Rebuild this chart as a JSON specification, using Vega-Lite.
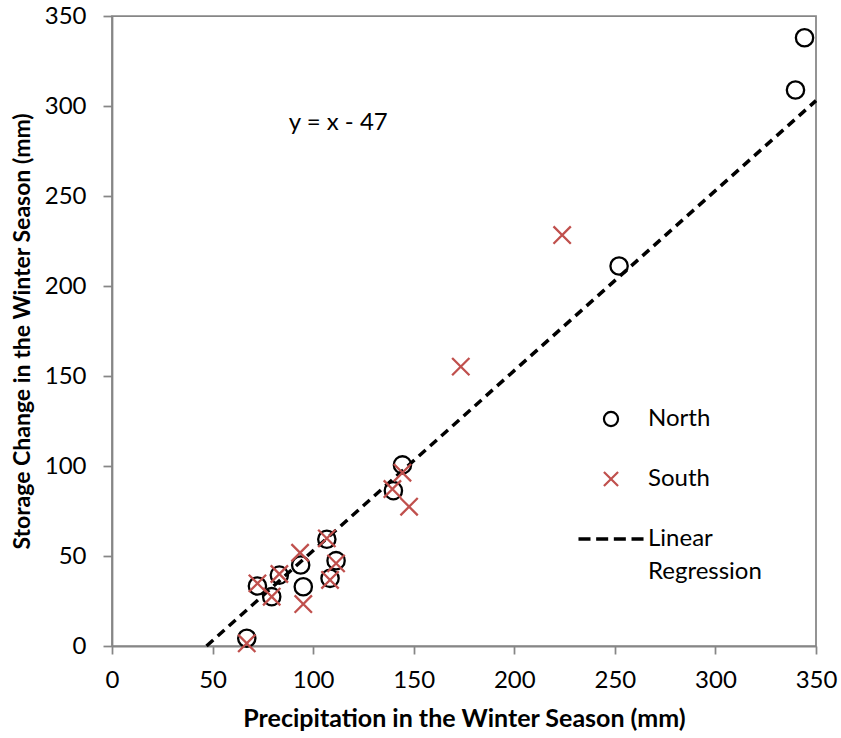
{
  "$schema": "https://vega.github.io/schema/vega-lite/v6.json",
  "width": 704,
  "height": 630,
  "autosize": {"type": "none"},
  "padding": {"left": 112, "top": 16, "right": 25, "bottom": 92},
  "background": "white",
  "config": {
    "font": "Lato",
    "view": {"stroke": "#868686", "strokeWidth": 1.75},
    "style": {"guide-label": {"lineHeight": 33}},
    "axis": {
      "grid": false,
      "domainColor": "#868686",
      "domainWidth": 1.75,
      "tickColor": "#868686",
      "tickWidth": 1.75,
      "labelFont": "Lato",
      "labelFontSize": 24,
      "labelColor": "#000000",
      "titleFont": "Lato",
      "titleFontSize": 24,
      "titleFontWeight": "bold",
      "titleColor": "#000000"
    }
  },
  "datasets": {
    "points": [
      {"series": "North", "precip": 67, "storage": 4.3},
      {"series": "North", "precip": 72.3, "storage": 33.3},
      {"series": "North", "precip": 79.4, "storage": 27.4},
      {"series": "North", "precip": 83.2, "storage": 39.4},
      {"series": "North", "precip": 93.8, "storage": 45},
      {"series": "North", "precip": 95.1, "storage": 32.9},
      {"series": "North", "precip": 106.8, "storage": 59.3},
      {"series": "North", "precip": 111.4, "storage": 47.4},
      {"series": "North", "precip": 108.4, "storage": 37.6},
      {"series": "North", "precip": 144.4, "storage": 100.6},
      {"series": "North", "precip": 139.9, "storage": 86.3},
      {"series": "North", "precip": 252.1, "storage": 211.1},
      {"series": "North", "precip": 339.8, "storage": 308.9},
      {"series": "North", "precip": 344.3, "storage": 337.9},
      {"series": "South", "precip": 67, "storage": 1.5},
      {"series": "South", "precip": 72.3, "storage": 34.8},
      {"series": "South", "precip": 79.4, "storage": 27.4},
      {"series": "South", "precip": 83.2, "storage": 40},
      {"series": "South", "precip": 93.5, "storage": 51.8},
      {"series": "South", "precip": 95.1, "storage": 23.3},
      {"series": "South", "precip": 106.8, "storage": 59.8},
      {"series": "South", "precip": 111.4, "storage": 45.9},
      {"series": "South", "precip": 108.4, "storage": 36.7},
      {"series": "South", "precip": 147.7, "storage": 77.4},
      {"series": "South", "precip": 144.4, "storage": 96.3},
      {"series": "South", "precip": 139.4, "storage": 87.2},
      {"series": "South", "precip": 173.4, "storage": 155.2},
      {"series": "South", "precip": 223.8, "storage": 228.3}
    ],
    "fit": [
      {"precip": 47, "storage": 0},
      {"precip": 350, "storage": 303}
    ],
    "note": [
      {"precip": 112.5, "storage": 290.5, "label": "y = x - 47"}
    ]
  },
  "layer": [
    {
      "data": {"name": "fit"},
      "mark": {"type": "line", "color": "#000000", "strokeWidth": 3.5, "strokeDash": [9, 6]},
      "encoding": {
        "x": {"field": "precip", "type": "quantitative"},
        "y": {"field": "storage", "type": "quantitative"}
      }
    },
    {
      "data": {"name": "points"},
      "mark": {"type": "point", "filled": false, "size": 300, "strokeWidth": 2.3, "opacity": 1},
      "encoding": {
        "x": {
          "field": "precip",
          "type": "quantitative",
          "scale": {"domain": [0, 350], "nice": false},
          "axis": {
            "values": [0, 50, 100, 150, 200, 250, 300, 350],
            "tickSize": 8,
            "labelPadding": 14,
            "titlePadding": 14,
            "titleFontSize": 25,
            "labelFlush": false
          },
          "title": "Precipitation in the Winter Season (mm)"
        },
        "y": {
          "field": "storage",
          "type": "quantitative",
          "scale": {"domain": [0, 350], "nice": false},
          "axis": {
            "values": [0, 50, 100, 150, 200, 250, 300, 350],
            "tickSize": 9,
            "labelPadding": 17,
            "titlePadding": 10,
            "titleFontSize": 23,
            "labelFlush": false
          },
          "title": "Storage Change in the Winter Season (mm)"
        },
        "shape": {
          "field": "series",
          "type": "nominal",
          "scale": {
            "domain": ["North", "South", "Linear Regression"],
            "range": [
              "circle",
              "M-1,-1L1,1M-1,1L1,-1",
              "M-4.6,-0.09L-2.9,-0.09M-2.1,-0.09L-0.4,-0.09M0.4,-0.09L2.1,-0.09M2.9,-0.09L4.6,-0.09M-4.6,0.09L-2.9,0.09M-2.1,0.09L-0.4,0.09M0.4,0.09L2.1,0.09M2.9,0.09L4.6,0.09"
            ]
          },
          "legend": {
            "title": null,
            "orient": "none",
            "legendX": 487,
            "legendY": 391,
            "padding": 0,
            "symbolSize": 200,
            "symbolStrokeWidth": 2.2,
            "labelFontSize": 24,
            "labelFont": "Lato",
            "labelColor": "#000000",
            "labelOffset": 25,
            "rowPadding": 36,
            "labelExpr": "datum.label == 'Linear Regression' ? ['Linear', 'Regression'] : datum.label"
          }
        },
        "color": {
          "field": "series",
          "type": "nominal",
          "scale": {
            "domain": ["North", "South", "Linear Regression"],
            "range": ["#000000", "#C0504D", "#000000"]
          },
          "legend": {
            "title": null,
            "orient": "none",
            "legendX": 487,
            "legendY": 391,
            "padding": 0,
            "symbolSize": 200,
            "symbolStrokeWidth": 2.2,
            "labelFontSize": 24,
            "labelFont": "Lato",
            "labelColor": "#000000",
            "labelOffset": 25,
            "rowPadding": 36,
            "labelExpr": "datum.label == 'Linear Regression' ? ['Linear', 'Regression'] : datum.label"
          }
        }
      }
    },
    {
      "data": {"name": "note"},
      "mark": {"type": "text", "fontSize": 24, "font": "Lato", "color": "#000000", "align": "center", "baseline": "middle"},
      "encoding": {
        "x": {"field": "precip", "type": "quantitative"},
        "y": {"field": "storage", "type": "quantitative"},
        "text": {"field": "label", "type": "nominal"}
      }
    }
  ]
}
